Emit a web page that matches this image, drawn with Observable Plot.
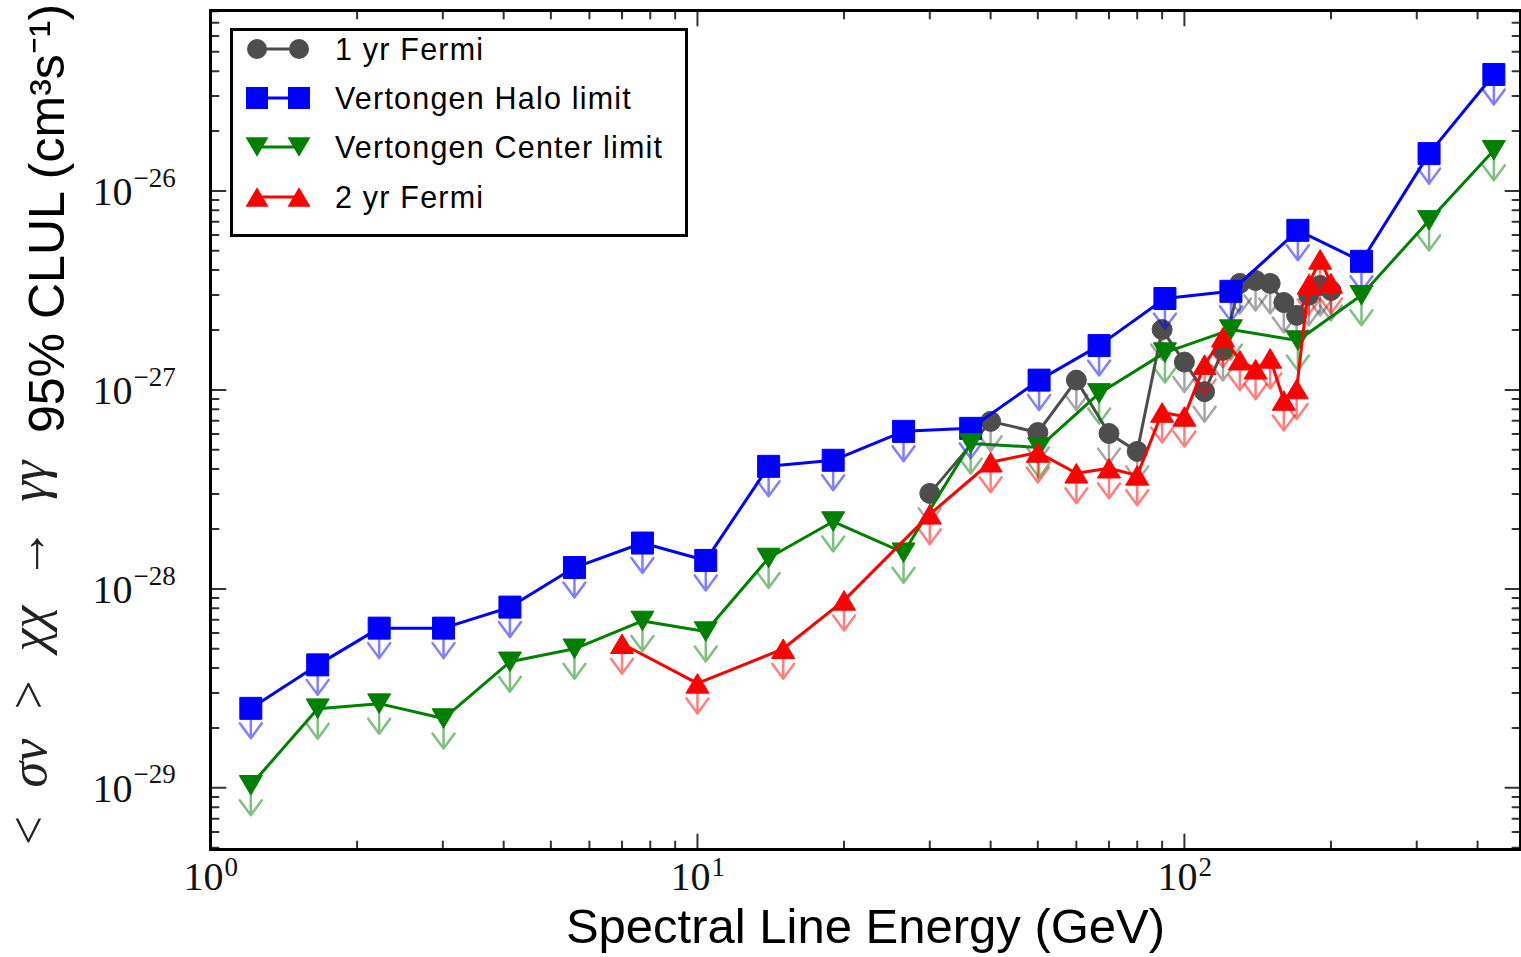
<!DOCTYPE html>
<html><head><meta charset="utf-8">
<script src="https://cdn.jsdelivr.net/npm/d3@7"></script>
<script src="https://cdn.jsdelivr.net/npm/@observablehq/plot@0.6"></script>
<style>
body{margin:0;background:#fff;}
#wrap{position:relative;width:1521px;height:957px;overflow:hidden;background:#fff;}
#legendBox{position:absolute;left:230px;top:28px;width:452px;height:203px;border:3px solid #000;background:#fff;}
.ltext{position:absolute;height:40px;line-height:40px;font-family:"Liberation Sans",Arial,sans-serif;font-size:30.5px;letter-spacing:1.2px;color:#000;white-space:nowrap;}
.lsample{position:absolute;}
</style></head>
<body><div id="wrap"></div>
<script>
// ---------------- data ----------------
const fermi1E = [30,40,50,60,70,80,90,100,110,120,130,140,150,160,170,180,190,200];
const fermi1Limit = [3.02e-28,6.95e-28,6.11e-28,1.12e-27,6.04e-28,4.91e-28,2.01e-27,1.38e-27,9.8e-28,1.58e-27,3.43e-27,3.55e-27,3.43e-27,2.75e-27,2.37e-27,2.99e-27,3.35e-27,3.16e-27];

const haloE = [1.21,1.66,2.22,3.01,4.12,5.59,7.71,10.4,14.0,19.0,26.5,36.4,50.3,66.8,91.2,124.6,171,231,318,432];
const haloLimit = [2.51e-29,4.15e-29,6.35e-29,6.35e-29,8.1e-29,1.28e-28,1.7e-28,1.39e-28,4.13e-28,4.43e-28,6.19e-28,6.41e-28,1.12e-27,1.67e-27,2.88e-27,3.13e-27,6.34e-27,4.43e-27,1.54e-26,3.85e-26];

const centerE = [1.21,1.66,2.22,3.01,4.12,5.59,7.71,10.4,14.0,19.0,26.5,36.4,50.3,66.8,91.2,124.6,171,231,318,432];
const centerLimit = [1.03e-29,2.5e-29,2.65e-29,2.23e-29,4.3e-29,5.0e-29,6.9e-29,6.1e-29,1.43e-28,2.18e-28,1.52e-28,5.38e-28,5.14e-28,9.6e-28,1.54e-27,2.01e-27,1.77e-27,2.99e-27,7.11e-27,1.6e-26];

const fermi2E = [7,10,15,20,30,40,50,60,70,80,90,100,110,120,130,140,150,160,170,180,190,200];
const fermi2Limit = [5.3e-29,3.35e-29,5.0e-29,8.75e-29,2.37e-28,4.33e-28,4.85e-28,3.81e-28,4.04e-28,3.72e-28,7.7e-28,7.36e-28,1.34e-27,1.84e-27,1.41e-27,1.27e-27,1.44e-27,8.85e-28,1.01e-27,3.39e-27,4.53e-27,3.43e-27];

const seriesNames = ["1 yr Fermi","Vertongen Halo limit","Vertongen Center limit","2 yr Fermi"];
const seriesColors = ["#4d4d4d","#0000ff","#008000","#ff0000"];

const xMajorTicks = [1,10,100];
const xMajorExp = ["0","1","2"];
const yMajorTicks = [1e-29,1e-28,1e-27,1e-26];
const yMajorExp = ["\u221229","\u221228","\u221227","\u221226"];

const xLabel = "Spectral Line Energy (GeV)";
const yLabelMath = "<\u2002\u03C3v\u2002>\u2002\u03C7\u03C7\u2002\u2192\u2002\u03B3\u03B3";
const yLabelText = "95% CLUL (cm\u00B3s\u207B\u00B9)";

// ---------------- setup ----------------
const W = 1521, H = 957;
const xDomain = [1, 490], yDomain = [4.9e-30, 8.07e-26];

const rad = s => Math.sqrt(s / Math.PI);
const symCircle = {draw(c, s){const r = rad(s); c.moveTo(r,0); c.arc(0,0,r,0,2*Math.PI); c.closePath();}};
const symSquare = {draw(c, s){const r = rad(s); c.rect(-r,-r,2*r,2*r);}};
const symTriDown = {draw(c, s){const r = rad(s); c.moveTo(-r,-r*0.85); c.lineTo(r,-r*0.85); c.lineTo(0,r*0.85); c.closePath();}};
const symTriUp = {draw(c, s){const r = rad(s); c.moveTo(-r,r*0.85); c.lineTo(r,r*0.85); c.lineTo(0,-r*0.85); c.closePath();}};
const symbols = [symCircle, symSquare, symTriDown, symTriUp];
const symR = [10, 11, 11.5, 11.5];

const arrowShape = {draw(c, l){c.moveTo(0,0); c.lineTo(0,-l); c.moveTo(-11,-l+15); c.lineTo(0,-l); c.lineTo(11,-l+15);}};
const tickShape = {draw(c, l){c.moveTo(0,0); c.lineTo(0,-l);}};

const rows = (E, V) => E.map((e, i) => ({e, v: V[i]}));
const seriesData = [rows(fermi1E, fermi1Limit), rows(haloE, haloLimit), rows(centerE, centerLimit), rows(fermi2E, fermi2Limit)];

const minors = (lo, hi) => {
  const out = [];
  for (let k = Math.floor(Math.log10(lo)); k <= Math.ceil(Math.log10(hi)); k++)
    for (let m = 2; m <= 9; m++) { const v = m * Math.pow(10, k); if (v > lo && v < hi) out.push(v); }
  return out;
};
const xMinor = minors(xDomain[0], xDomain[1]);
const yMinor = minors(yDomain[0], yDomain[1]);

const serif = "'Liberation Serif','DejaVu Serif',serif";
const sans = "'Liberation Sans',Arial,sans-serif";
const tickStroke = "#333";

const marks = [];
// ticks (inward)
const tk = (data, ch, anchor, rot, len) => Plot.vector(data, {[ch]: d => d, frameAnchor: anchor, rotate: rot, length: len, anchor: "start", shape: tickShape, stroke: tickStroke, strokeWidth: 2});
marks.push(tk(xMajorTicks, "x", "bottom", 0, 15), tk(xMinor, "x", "bottom", 0, 8));
marks.push(tk(xMajorTicks, "x", "top", 180, 15), tk(xMinor, "x", "top", 180, 8));
marks.push(tk(yMajorTicks, "y", "left", 90, 15), tk(yMinor, "y", "left", 90, 8));
marks.push(tk(yMajorTicks, "y", "right", -90, 15), tk(yMinor, "y", "right", -90, 8));

// series
seriesData.forEach((data, i) => {
  const col = seriesColors[i];
  marks.push(Plot.line(data, {x: "e", y: "v", stroke: col, strokeWidth: 3}));
  marks.push(Plot.vector(data, {x: "e", y: "v", rotate: 180, length: 30, anchor: "start", shape: arrowShape, stroke: col, strokeOpacity: 0.5, strokeWidth: 2.5}));
  marks.push(Plot.dot(data, {x: "e", y: "v", symbol: symbols[i], r: symR[i], fill: col, stroke: col, strokeWidth: 1}));
});

marks.push(Plot.frame({stroke: "#000", strokeWidth: 3}));

// tick labels
marks.push(Plot.text(xMajorTicks, {x: d => d, frameAnchor: "bottom", text: () => "10", textAnchor: "end", dx: 13, dy: 40, fontSize: 40, fontFamily: serif, fill: "#111"}));
marks.push(Plot.text(xMajorTicks, {x: d => d, frameAnchor: "bottom", text: (d, i) => xMajorExp[i], textAnchor: "start", dx: 14, dy: 26, fontSize: 27, fontFamily: serif, fill: "#111"}));
marks.push(Plot.text(yMajorTicks, {y: d => d, frameAnchor: "left", text: () => "10", textAnchor: "end", dx: -78, dy: 1, fontSize: 40, fontFamily: serif, fill: "#111"}));
marks.push(Plot.text(yMajorTicks, {y: d => d, frameAnchor: "left", text: (d, i) => yMajorExp[i], textAnchor: "start", dx: -77, dy: -13, fontSize: 27, fontFamily: serif, fill: "#111"}));

// axis titles
marks.push(Plot.text([xLabel], {text: d => d, frameAnchor: "bottom", dy: 93, fontSize: 49, fontFamily: sans, fill: "#000"}));
marks.push(Plot.text([yLabelText], {text: d => d, frameAnchor: "left", dx: -163, dy: 3, rotate: -90, textAnchor: "start", fontSize: 50, fontFamily: sans, fill: "#000"}));
marks.push(Plot.text([yLabelMath], {text: d => d, frameAnchor: "bottom-left", dx: -165, dy: -1, rotate: -90, textAnchor: "start", fontSize: 52, fontStyle: "italic", fontFamily: serif, fill: "#222"}));

const chart = Plot.plot({
  width: W, height: H,
  marginLeft: 210, marginRight: 1, marginTop: 10, marginBottom: 108,
  x: {type: "log", domain: xDomain, axis: null},
  y: {type: "log", domain: yDomain, axis: null},
  style: {background: "white", overflow: "visible"},
  marks
});
const wrap = document.getElementById("wrap");
wrap.appendChild(chart);

// legend
const box = document.createElement("div");
box.id = "legendBox";
wrap.appendChild(box);
const rowY = [49, 98, 147, 197];
seriesNames.forEach((name, i) => {
  const col = seriesColors[i];
  const svgNS = "http://www.w3.org/2000/svg";
  const s = document.createElementNS(svgNS, "svg");
  s.setAttribute("width", 80); s.setAttribute("height", 30);
  s.setAttribute("class", "lsample");
  s.style.left = "240px"; s.style.top = (rowY[i] - 15) + "px";
  const ln = document.createElementNS(svgNS, "line");
  ln.setAttribute("x1", 17); ln.setAttribute("x2", 59); ln.setAttribute("y1", 15); ln.setAttribute("y2", 15);
  ln.setAttribute("stroke", col); ln.setAttribute("stroke-width", 3);
  s.appendChild(ln);
  [17, 59].forEach(cx => {
    const p = document.createElementNS(svgNS, "path");
    p.setAttribute("d", d3.symbol().type(symbols[i]).size(Math.PI * symR[i] * symR[i])());
    p.setAttribute("transform", `translate(${cx},15)`);
    p.setAttribute("fill", col);
    s.appendChild(p);
  });
  wrap.appendChild(s);
  const t = document.createElement("div");
  t.className = "ltext";
  t.style.left = "335px"; t.style.top = (rowY[i] - 20) + "px";
  t.textContent = name;
  wrap.appendChild(t);
});
</script>
</body></html>
